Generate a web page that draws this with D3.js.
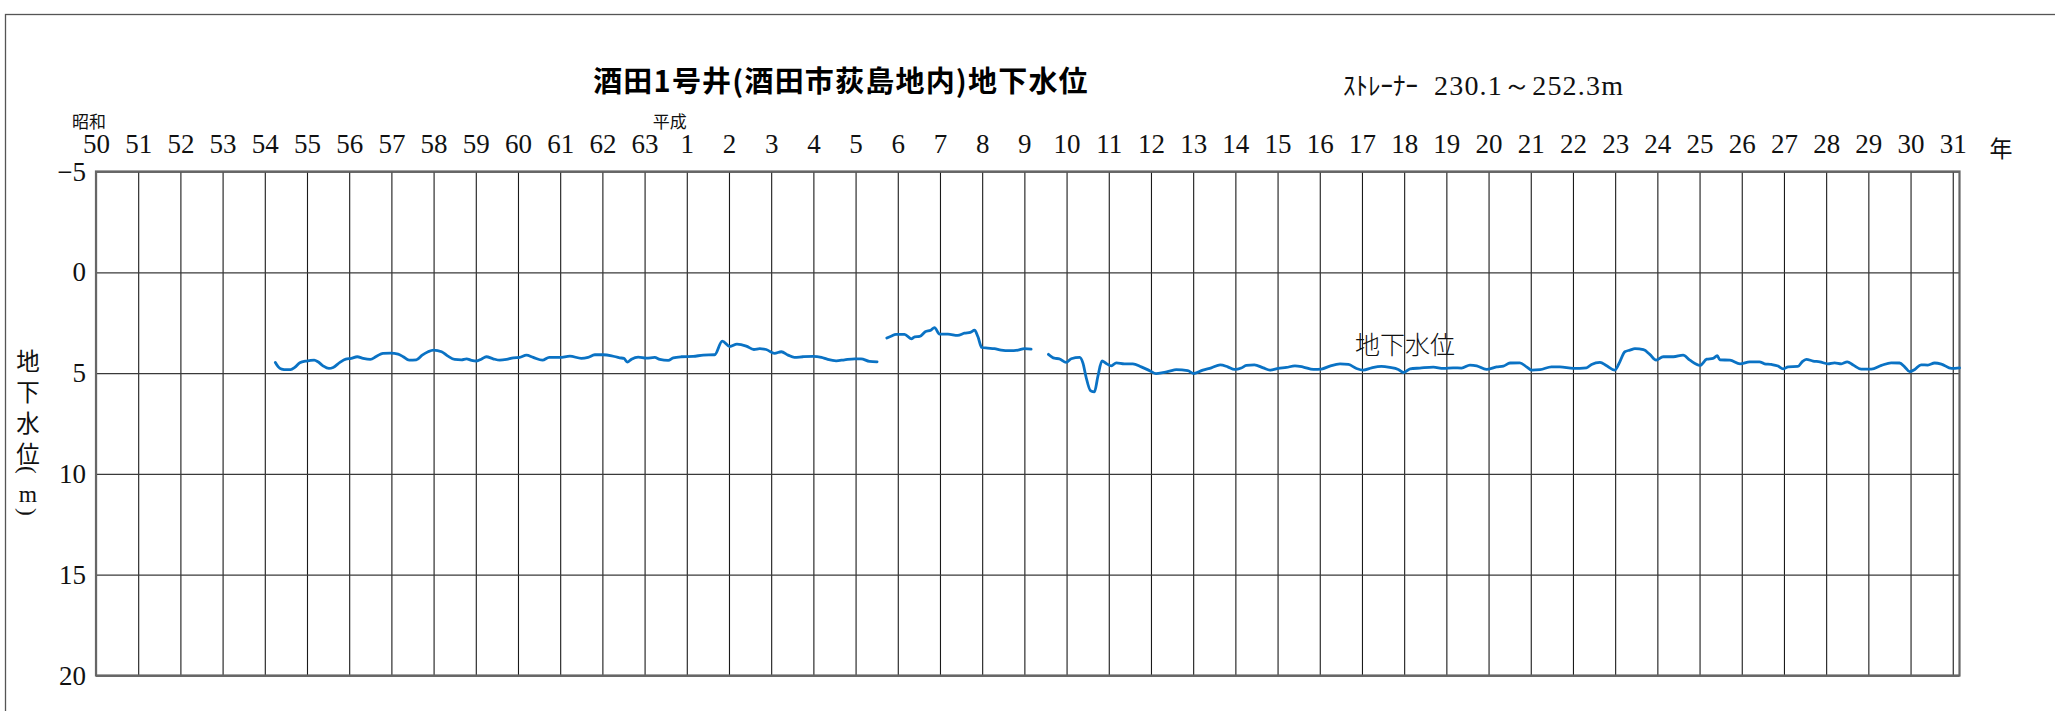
<!DOCTYPE html>
<html><head><meta charset="utf-8">
<script src="https://cdn.jsdelivr.net/npm/d3@7"></script>
<style>html,body{margin:0;padding:0;background:#fff;overflow:hidden}</style>
</head><body><svg id="c" width="2055" height="711"></svg>
<script>
// ---- data ----
const tickYears = d3.range(1975, 2020);
const tickLabels = ["50","51","52","53","54","55","56","57","58","59","60","61","62","63",
  "1","2","3","4","5","6","7","8","9","10","11","12","13","14","15","16","17","18","19","20",
  "21","22","23","24","25","26","27","28","29","30","31"];
const levelTicks = [-5, 0, 5, 10, 15, 20];
const yTitleChars = ["地","下","水","位","(","m",")"];

const seg1Years = [1979.25,1979.32,1979.40,1979.51,1979.61,1979.71,1979.83,1979.99,1980.17,1980.26,
  1980.38,1980.52,1980.62,1980.78,1980.92,1981.05,1981.19,1981.33,1981.50,1981.65,
  1981.80,1981.98,1982.16,1982.28,1982.42,1982.59,1982.73,1982.87,1983.00,1983.19,
  1983.34,1983.50,1983.66,1983.78,1983.90,1984.02,1984.13,1984.25,1984.41,1984.57,
  1984.73,1984.89,1985.04,1985.20,1985.36,1985.58,1985.74,1985.99,1986.23,1986.50,
  1986.66,1986.82,1987.02,1987.22,1987.41,1987.51,1987.59,1987.69,1987.85,1988.04,
  1988.24,1988.36,1988.56,1988.68,1988.87,1989.15,1989.39,1989.66,1989.84,1990.02,
  1990.19,1990.41,1990.59,1990.73,1990.88,1991.08,1991.24,1991.40,1991.55,1991.75,
  1991.99,1992.19,1992.34,1992.54,1992.74,1992.98,1993.13,1993.33,1993.51];
const seg1Levels = [4.47,4.69,4.80,4.83,4.83,4.72,4.49,4.40,4.36,4.44,
  4.64,4.77,4.72,4.47,4.31,4.27,4.19,4.27,4.32,4.16,
  4.02,4.01,4.06,4.19,4.36,4.34,4.11,3.94,3.86,3.94,
  4.16,4.32,4.34,4.29,4.37,4.40,4.31,4.19,4.29,4.36,
  4.32,4.24,4.22,4.11,4.22,4.36,4.22,4.22,4.16,4.27,
  4.22,4.09,4.09,4.14,4.24,4.27,4.45,4.31,4.21,4.26,
  4.22,4.32,4.37,4.24,4.19,4.17,4.11,4.09,3.41,3.68,
  3.56,3.66,3.83,3.79,3.83,4.02,3.94,4.11,4.22,4.19,
  4.17,4.22,4.32,4.39,4.34,4.29,4.29,4.42,4.44];

const seg2Years = [1993.74,1993.84,1993.96,1994.16,1994.32,1994.40,1994.52,1994.65,1994.78,1994.87,
  1994.99,1995.19,1995.42,1995.58,1995.72,1995.82,1995.90,1995.99,1996.13,1996.29,
  1996.45,1996.65,1996.85,1997.00,1997.16];
const seg2Levels = [3.26,3.17,3.08,3.08,3.30,3.20,3.18,2.95,2.87,2.74,
  3.07,3.07,3.13,3.02,2.98,2.87,3.20,3.73,3.76,3.79,
  3.86,3.89,3.86,3.79,3.81];

const seg3Years = [1997.57,1997.71,1997.83,1997.99,1998.11,1998.31,1998.39,1998.46,1998.57,1998.66,
  1998.74,1998.84,1998.94,1999.06,1999.18,1999.37,1999.57,1999.77,1999.97,2000.12,
  2000.28,2000.44,2000.60,2000.87,2001.02,2001.23,2001.43,2001.64,2001.82,2001.98,
  2002.14,2002.26,2002.45,2002.66,2002.82,2003.02,2003.21,2003.41,2003.61,2003.85,
  2004.04,2004.24,2004.48,2004.68,2004.87,2005.03,2005.23,2005.46,2005.66,2005.86,
  2005.99,2006.14,2006.37,2006.69,2006.93,2007.16,2007.36,2007.56,2007.72,2007.95,
  2008.19,2008.35,2008.51,2008.74,2008.90,2009.02,2009.22,2009.49,2009.69,2010.01,
  2010.32,2010.44,2010.64,2010.80,2010.99,2011.11,2011.23,2011.35,2011.47,2011.67,
  2011.82,2011.97,2012.14,2012.38,2012.61,2012.77,2013.01,2013.17,2013.32,2013.42,
  2013.48,2013.72,2013.96,2014.19,2014.42,2014.54,2014.70,2014.86,2014.98,2015.10,
  2015.33,2015.43,2015.53,2015.69,2015.85,2016.04,2016.20,2016.36,2016.50,2016.64,
  2016.83,2017.07,2017.31,2017.54,2017.74,2017.86,2017.98,2018.10,2018.25,2018.41,
  2018.57,2018.73,2018.97,2019.16];
const seg3Levels = [4.07,4.26,4.29,4.47,4.29,4.22,4.52,5.18,5.88,5.93,
  5.18,4.40,4.52,4.64,4.49,4.54,4.54,4.69,4.88,5.03,
  4.98,4.90,4.83,4.88,5.02,4.85,4.74,4.59,4.69,4.82,
  4.75,4.62,4.59,4.74,4.85,4.77,4.72,4.64,4.70,4.82,
  4.80,4.65,4.54,4.57,4.77,4.85,4.74,4.67,4.72,4.82,
  4.97,4.79,4.75,4.70,4.77,4.74,4.75,4.60,4.64,4.82,
  4.69,4.65,4.50,4.49,4.69,4.85,4.83,4.69,4.69,4.77,
  4.74,4.57,4.47,4.64,4.85,4.44,3.94,3.86,3.79,3.84,
  4.07,4.36,4.19,4.19,4.11,4.36,4.62,4.31,4.27,4.14,
  4.34,4.36,4.54,4.44,4.44,4.54,4.57,4.65,4.79,4.69,
  4.67,4.44,4.32,4.40,4.44,4.54,4.49,4.54,4.44,4.60,
  4.80,4.80,4.62,4.49,4.50,4.69,4.93,4.82,4.59,4.60,
  4.50,4.55,4.77,4.74];

// ---- drawing ----
const W = 2055, H = 711;
const svg = d3.select("#c");
svg.append("rect").attr("width", W).attr("height", H).attr("fill", "#fff");

const pL = 96, pR = 1959.5, pT = 171.5, pB = 675.5;
const x = d3.scaleLinear().domain([1975, 2019.16]).range([pL, pR]);
const y = d3.scaleLinear().domain([-5, 20]).range([pT, pB]);

const serif = "'Liberation Serif','DejaVu Serif',serif";
const jp = "'Noto Sans CJK JP','Noto Sans CJK SC',sans-serif";

// outer frame
svg.append("rect").attr("x", 5.5).attr("y", 14.5).attr("width", 2200).attr("height", 900)
  .attr("fill", "none").attr("stroke", "#555").attr("stroke-width", 1.3);

// vertical grid
const vg = svg.append("g").attr("transform", `translate(0,${pT})`)
  .call(d3.axisBottom(x).tickValues(tickYears).tickSize(pB - pT).tickFormat(""));
vg.select(".domain").remove();
vg.selectAll("line").attr("stroke", "#1a1a1a").attr("stroke-width", 1.1);

// horizontal grid
const hg = svg.append("g").attr("transform", `translate(${pL},0)`)
  .call(d3.axisLeft(y).tickValues(levelTicks).tickSize(-(pR - pL)).tickFormat(""));
hg.select(".domain").remove();
hg.selectAll("line").attr("stroke", "#3a3a3a").attr("stroke-width", 1.3);

// plot frame
svg.append("rect").attr("x", pL).attr("y", pT).attr("width", pR - pL).attr("height", pB - pT)
  .attr("fill", "none").attr("stroke", "#666").attr("stroke-width", 2.2);

// x labels
const xa = svg.append("g").attr("transform", "translate(0,153)")
  .call(d3.axisTop(x).tickValues(tickYears).tickSize(0).tickPadding(0)
    .tickFormat((d, i) => tickLabels[i]));
xa.select(".domain").remove();
xa.selectAll("text").attr("font-family", serif).attr("font-size", 27).attr("fill", "#111");

// y labels
const ya = svg.append("g").attr("transform", `translate(${pL},0)`)
  .call(d3.axisLeft(y).tickValues(levelTicks).tickSize(0).tickPadding(10)
    .tickFormat(d => d < 0 ? "\u2212" + Math.abs(d) : String(d)));
ya.select(".domain").remove();
ya.selectAll("text").attr("font-family", serif).attr("font-size", 27).attr("fill", "#111");

// era labels
svg.append("text").attr("x", x(1975) - 7).attr("y", 128).attr("text-anchor", "middle")
  .attr("font-family", jp).attr("font-size", 17).attr("fill", "#111").text("昭和");
svg.append("text").attr("x", x(1989) - 17).attr("y", 128).attr("text-anchor", "middle")
  .attr("font-family", jp).attr("font-size", 17).attr("fill", "#111").text("平成");
svg.append("text").attr("x", 2001).attr("y", 157).attr("text-anchor", "middle")
  .attr("font-family", jp).attr("font-size", 23).attr("fill", "#111").text("年");

// title
svg.append("text").attr("x", 841).attr("y", 92).attr("text-anchor", "middle")
  .attr("font-family", jp).attr("font-weight", 700).attr("font-size", 29)
  .attr("letter-spacing", 1.2).attr("fill", "#000")
  .text("酒田1号井(酒田市荻島地内)地下水位");
const sub = svg.append("text").attr("x", 1343).attr("y", 95).attr("fill", "#111");
sub.append("tspan").attr("font-family", jp).attr("font-size", 25).text("ｽﾄﾚｰﾅｰ");
sub.append("tspan").attr("dx", 16).attr("font-family", serif).attr("font-size", 28)
  .attr("letter-spacing", 1.2).text("230.1～252.3m");

// y title (vertical)
const yT = [362, 393, 424, 455, 470, 494, 512];
svg.append("g").selectAll("text").data(yTitleChars).join("text")
  .attr("transform", (d, i) => `translate(28,${yT[i]})` + ((d === "(" || d === ")") ? " rotate(90)" : ""))
  .attr("dy", "0.35em").attr("text-anchor", "middle")
  .attr("font-family", d => d === "m" || d === "(" || d === ")" ? serif : jp)
  .attr("font-size", 23.5).attr("fill", "#111")
  .text(d => d);

// in-plot series label
svg.append("text").attr("x", 1405).attr("y", 354).attr("text-anchor", "middle")
  .attr("font-family", jp).attr("font-size", 25).attr("font-weight", 300).attr("fill", "#111").text("地下水位");

// series
const line = d3.line().x(d => x(d[0])).y(d => y(d[1])).curve(d3.curveMonotoneX);
[[seg1Years, seg1Levels], [seg2Years, seg2Levels], [seg3Years, seg3Levels]].forEach(([ys, vs]) => {
  svg.append("path").datum(d3.zip(ys, vs)).attr("d", line)
    .attr("fill", "none").attr("stroke", "#0A72C4").attr("stroke-width", 2.8)
    .attr("stroke-linejoin", "round").attr("stroke-linecap", "round");
});
</script></body></html>
